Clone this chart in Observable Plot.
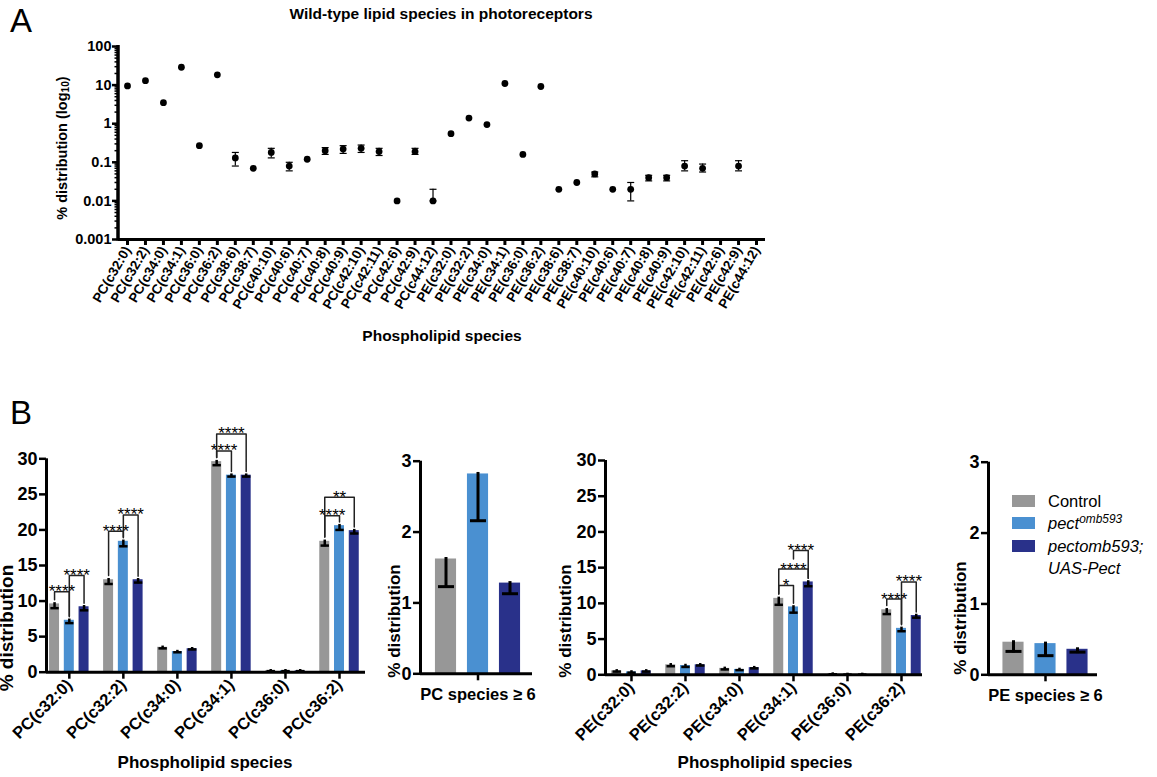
<!DOCTYPE html>
<html>
<head>
<meta charset="utf-8">
<script src="https://cdn.jsdelivr.net/npm/d3@7"></script>
<script src="https://cdn.jsdelivr.net/npm/@observablehq/plot@0.6"></script>
<style>
  html, body { margin: 0; padding: 0; background: white; }
  #root { position: relative; width: 1157px; height: 777px; overflow: hidden; font-family: 'Liberation Sans', Arial, Helvetica, sans-serif; color: black; }
  #root svg { position: absolute; background: transparent; overflow: visible; }
  .t { position: absolute; white-space: nowrap; line-height: 1; transform-origin: center center; }
  .sw { position: absolute; }
</style>
</head>
<body>
<div id="root"></div>
<script>
// ---------------- DATA ----------------
// Panel A: wild-type lipid species (% distribution, log scale)
const speciesA = [
  "PC(c32:0)","PC(c32:2)","PC(c34:0)","PC(c34:1)","PC(c36:0)","PC(c36:2)","PC(c38:6)","PC(c38:7)","PC(c40:10)",
  "PC(c40:6)","PC(c40:7)","PC(c40:8)","PC(c40:9)","PC(c42:10)","PC(c42:11)","PC(c42:6)","PC(c42:9)","PC(c44:12)",
  "PE(c32:0)","PE(c32:2)","PE(c34:0)","PE(c34:1)","PE(c36:0)","PE(c36:2)","PE(c38:6)","PE(c38:7)","PE(c40:10)",
  "PE(c40:6)","PE(c40:7)","PE(c40:8)","PE(c40:9)","PE(c42:10)","PE(c42:11)","PE(c42:6)","PE(c42:9)","PE(c44:12)"
];
const valuesA = [
  9.5, 13, 3.5, 29, 0.27, 18.5, 0.13, 0.07, 0.18,
  0.08, 0.12, 0.2, 0.22, 0.23, 0.19, 0.01, 0.19, 0.01,
  0.55, 1.4, 0.95, 11, 0.16, 9.2, 0.02, 0.03, 0.05,
  0.02, 0.02, 0.04, 0.04, 0.08, 0.07, null, 0.08, null
];
const errLowA = [
  null, null, null, null, null, null, 0.08, null, 0.13,
  0.06, null, 0.16, 0.17, 0.18, 0.15, null, 0.16, 0.01,
  null, null, null, null, null, null, null, null, 0.042,
  null, 0.01, 0.033, 0.033, 0.06, 0.056, null, 0.06, null
];
const errHighA = [
  null, null, null, null, null, null, 0.18, null, 0.23,
  0.1, null, 0.24, 0.27, 0.28, 0.23, null, 0.23, 0.02,
  null, null, null, null, null, null, null, null, 0.056,
  null, 0.03, 0.046, 0.046, 0.11, 0.09, null, 0.11, null
];
const ticksA = [0.001, 0.01, 0.1, 1, 10, 100];
const tickLabelsA = ["0.001", "0.01", "0.1", "1", "10", "100"];

// Panel B
const genotypes = ["Control", "pect omb593", "pectomb593; UAS-Pect"];
const colors = ["#979797", "#4a90d1", "#29318a"];
const speciesPC = ["PC(c32:0)","PC(c32:2)","PC(c34:0)","PC(c34:1)","PC(c36:0)","PC(c36:2)"];
const speciesPE = ["PE(c32:0)","PE(c32:2)","PE(c34:0)","PE(c34:1)","PE(c36:0)","PE(c36:2)"];
const pcControl    = [9.6, 13.0, 3.5, 29.6, 0.2, 18.4];
const pcControlErr = [0.6, 0.6, 0.15, 0.5, 0.05, 0.6];
const pcPect       = [7.3, 18.4, 2.9, 27.7, 0.2, 20.6];
const pcPectErr    = [0.4, 0.7, 0.1, 0.2, 0.05, 0.6];
const pcRescue     = [9.2, 13.0, 3.3, 27.7, 0.2, 19.9];
const pcRescueErr  = [0.5, 0.4, 0.1, 0.2, 0.05, 0.4];
const peControl    = [0.55, 1.4, 0.9, 10.7, 0.1, 9.1];
const peControlErr = [0.1, 0.2, 0.15, 0.9, 0.03, 0.6];
const pePect       = [0.4, 1.3, 0.75, 9.5, 0.05, 6.5];
const pePectErr    = [0.1, 0.2, 0.1, 0.8, 0.02, 0.4];
const peRescue     = [0.55, 1.4, 1.0, 13.0, 0.05, 8.3];
const peRescueErr  = [0.1, 0.1, 0.1, 0.6, 0.02, 0.3];
const pcLong    = [1.62, 2.82, 1.28];
const pcLongErr = [0.39, 0.66, 0.15];
const peLong    = [0.46, 0.44, 0.36];
const peLongErr = [0.13, 0.17, 0.04];
// significance brackets: [group, genotype a, genotype b, level, label]
const pcBrackets = [
  [0, 0, 1, 11.3, "****"], [0, 1, 2, 13.6, "****"],
  [1, 0, 1, 19.8, "****"], [1, 1, 2, 22.1, "****"],
  [3, 0, 1, 31.1, "****"], [3, 0, 2, 33.5, "****"],
  [5, 0, 1, 22.0, "****"], [5, 0, 2, 24.6, "**"]
];
const peBrackets = [
  [3, 0, 1, 12.5, "*"], [3, 0, 2, 14.8, "****"], [3, 1, 2, 17.4, "****"],
  [5, 0, 1, 10.6, "****"], [5, 1, 2, 13.0, "****"]
];
const ticksB = [0, 5, 10, 15, 20, 25, 30];
const ticksSmall = [0, 1, 2, 3];

// ---------------- HELPERS ----------------
const FONT = "'Liberation Sans', Arial, Helvetica, sans-serif";
const root = document.getElementById("root");

function place(svg, left, top) {
  svg.style.left = left + "px";
  svg.style.top = top + "px";
  root.appendChild(svg);
}
function text(html, cx, cy, opts = {}) {
  const d = document.createElement("div");
  d.className = "t";
  d.innerHTML = html;
  d.style.left = cx + "px";
  d.style.top = cy + "px";
  d.style.fontSize = (opts.size || 16) + "px";
  d.style.fontWeight = opts.weight || "bold";
  if (opts.italic) d.style.fontStyle = "italic";
  const anchor = opts.anchor === "start" ? "0%" : "-50%";
  d.style.transform = `translate(${anchor}, -50%)` + (opts.rotate ? ` rotate(${opts.rotate}deg)` : "");
  root.appendChild(d);
  return d;
}
// horizontal cap symbol for error bars
const capSymbol = {
  draw(ctx, size) {
    const w = Math.sqrt(size / Math.PI);
    ctx.moveTo(-w, 0);
    ctx.lineTo(w, 0);
  }
};

// ---------------- PANEL A ----------------
const dataA = speciesA.map((s, i) => ({species: s, value: valuesA[i], lo: errLowA[i], hi: errHighA[i]}));
const minorA = [];
for (let e = -3; e < 2; ++e) for (let m = 2; m <= 9; ++m) minorA.push(m * Math.pow(10, e));

const plotA = Plot.plot({
  width: 800, height: 360,
  marginLeft: 118, marginRight: 35, marginTop: 46, marginBottom: 121,
  style: {fontFamily: FONT, fontWeight: "bold", color: "black", background: "transparent", overflow: "visible"},
  x: {type: "point", domain: speciesA, label: null},
  y: {type: "log", domain: [0.001, 100], label: null},
  marks: [
    Plot.axisY({ticks: minorA, tickSize: 3.5, tickFormat: () => "", strokeWidth: 1.5}),
    Plot.axisY({ticks: ticksA, tickSize: 6, tickPadding: 1, strokeWidth: 2.5, fontSize: 14.5,
      tickFormat: d => tickLabelsA[ticksA.indexOf(d)], label: null}),
    Plot.axisX({tickSize: 6, tickPadding: 2, strokeWidth: 3, tickRotate: -60, fontSize: 13.5, label: null}),
    Plot.ruleY([0.001], {strokeWidth: 3}),
    (index, scales, values, dims) => {
      const l = document.createElementNS("http://www.w3.org/2000/svg", "line");
      l.setAttribute("x1", dims.marginLeft); l.setAttribute("x2", dims.marginLeft);
      l.setAttribute("y1", dims.marginTop - 1); l.setAttribute("y2", dims.height - dims.marginBottom + 1.5);
      l.setAttribute("stroke", "black"); l.setAttribute("stroke-width", 3.5);
      return l;
    },
    Plot.ruleX(dataA.filter(d => d.lo != null), {x: "species", y1: "lo", y2: "hi", strokeWidth: 1.2}),
    Plot.dot(dataA.filter(d => d.lo != null), {x: "species", y: "lo", symbol: capSymbol, r: 3.5, stroke: "black", strokeWidth: 1.2}),
    Plot.dot(dataA.filter(d => d.hi != null), {x: "species", y: "hi", symbol: capSymbol, r: 3.5, stroke: "black", strokeWidth: 1.2}),
    Plot.dot(dataA.filter(d => d.value != null), {x: "species", y: "value", r: 3.4, fill: "black"})
  ]
});
place(plotA, 0, 0);

// ---------------- PANEL B ----------------
const offsets = [-0.273, 0, 0.273];   // genotype position inside a group (in group units)
function groupTable(vals, errs) {
  const rows = [];
  vals[0].forEach((_, i) => {
    vals.forEach((arr, j) => rows.push({i, j, x: i + offsets[j], value: arr[i], err: errs[j][i], geno: genotypes[j]}));
  });
  return rows;
}
function bracketData(brackets, table) {
  const pts = [], labels = [];
  brackets.forEach(([g, a, b, level, lab], k) => {
    const ra = table.find(d => d.i === g && d.j === a);
    const rb = table.find(d => d.i === g && d.j === b);
    // a drop stops above a lower bracket's label when it falls strictly inside that bracket
    const stop = (j, base) => {
      let s = base;
      brackets.forEach(([g2, a2, b2, l2]) => {
        if (g2 === g && l2 < level && j > a2 && j < b2) s = Math.max(s, l2 + 1.4);
      });
      return s;
    };
    pts.push({k, x: ra.x, y: stop(a, ra.value + 0.6)});
    pts.push({k, x: ra.x, y: level});
    pts.push({k, x: rb.x, y: level});
    pts.push({k, x: rb.x, y: stop(b, rb.value + 0.5)});
    labels.push({x: (ra.x + rb.x) / 2, y: level, label: lab});
  });
  return {pts, labels};
}
function groupedPlot({species, table, brackets, width, height, marginLeft, marginRight, marginTop, marginBottom, xdomain}) {
  const br = bracketData(brackets, table);
  const hw = 0.0925;
  return Plot.plot({
    width, height, marginLeft, marginRight, marginTop, marginBottom,
    style: {fontFamily: FONT, fontWeight: "bold", color: "black", background: "transparent", overflow: "visible"},
    x: {domain: xdomain, label: null},
    y: {domain: [0, 30], label: null},
    color: {domain: genotypes, range: colors},
    marks: [
      Plot.rectY(table, {x1: d => d.x - hw, x2: d => d.x + hw, y1: 0, y2: "value", fill: "geno"}),
      Plot.ruleX(table, {x: "x", y1: "value", y2: d => d.value - d.err, strokeWidth: 2.5, strokeLinecap: "square"}),
      Plot.dot(table, {x: "x", y: d => d.value - d.err, symbol: capSymbol, r: 4.2, stroke: "black", strokeWidth: 2.5}),
      Plot.line(br.pts, {x: "x", y: "y", z: "k", stroke: "#222", strokeWidth: 1.5}),
      Plot.text(br.labels, {x: "x", y: "y", text: "label", fontSize: 17, fontWeight: "normal", lineAnchor: "middle", dy: 0}),
      Plot.axisY({ticks: ticksB, tickSize: 7, tickPadding: 2, strokeWidth: 2.5, fontSize: 18, tickFormat: d => String(d), label: null}),
      Plot.axisX({ticks: d3.range(species.length), tickFormat: i => species[i], tickSize: 7, tickPadding: 3,
        strokeWidth: 2.5, tickRotate: -45, fontSize: 16.5, label: null}),
      Plot.ruleY([0], {strokeWidth: 3}),
      Plot.ruleX([xdomain[0]], {y1: 0, y2: 30, strokeWidth: 3})
    ]
  });
}
function singlePlot({label, vals, errs, width, height, marginLeft, marginRight, marginTop, marginBottom, xdomain}) {
  const table = vals.map((v, j) => ({x: j - 1, value: v, err: errs[j], geno: genotypes[j]}));
  const hw = 0.33;
  return Plot.plot({
    width, height, marginLeft, marginRight, marginTop, marginBottom,
    style: {fontFamily: FONT, fontWeight: "bold", color: "black", background: "transparent", overflow: "visible"},
    x: {domain: xdomain, label: null},
    y: {domain: [0, 3], label: null},
    color: {domain: genotypes, range: colors},
    marks: [
      Plot.rectY(table, {x1: d => d.x - hw, x2: d => d.x + hw, y1: 0, y2: "value", fill: "geno"}),
      Plot.ruleX(table, {x: "x", y1: "value", y2: d => d.value - d.err, strokeWidth: 3, strokeLinecap: "square"}),
      Plot.dot(table, {x: "x", y: d => d.value - d.err, symbol: capSymbol, r: 8, stroke: "black", strokeWidth: 3}),
      Plot.axisY({ticks: ticksSmall, tickSize: 7, tickPadding: 2, strokeWidth: 2.5, fontSize: 18, tickFormat: d => String(d), label: null}),
      Plot.axisX({ticks: [0], tickFormat: () => label, tickSize: 7, tickPadding: 7, strokeWidth: 2.5, fontSize: 16.5, label: null}),
      Plot.ruleY([0], {strokeWidth: 3}),
      Plot.ruleX([xdomain[0]], {y1: 0, y2: 3, strokeWidth: 3})
    ]
  });
}

const pcTable = groupTable([pcControl, pcPect, pcRescue], [pcControlErr, pcPectErr, pcRescueErr]);
const peTable = groupTable([peControl, pePect, peRescue], [peControlErr, pePectErr, peRescueErr]);

const b1 = groupedPlot({species: speciesPC, table: pcTable, brackets: pcBrackets,
  width: 380, height: 370, marginLeft: 46, marginRight: 15, marginTop: 58.3, marginBottom: 98.3,
  xdomain: [-0.422, 5.481]});
place(b1, 0, 400);

const b2 = singlePlot({label: "PC species \u2265 6", vals: pcLong, errs: pcLongErr,
  width: 170, height: 370, marginLeft: 40, marginRight: 18, marginTop: 60.7, marginBottom: 96.7,
  xdomain: [-1.797, 1.703]});
place(b2, 380, 400);

const b3 = groupedPlot({species: speciesPE, table: peTable, brackets: peBrackets,
  width: 410, height: 370, marginLeft: 75, marginRight: 18, marginTop: 60, marginBottom: 95.7,
  xdomain: [-0.481, 5.389]});
place(b3, 530, 400);

const b4 = singlePlot({label: "PE species \u2265 6", vals: peLong, errs: peLongErr,
  width: 207, height: 370, marginLeft: 38, marginRight: 60, marginTop: 61.7, marginBottom: 95.7,
  xdomain: [-1.781, 1.625]});
place(b4, 950, 400);

// ---------------- TEXT ----------------
text("A", 21, 20, {size: 33, weight: "normal"});
text("B", 21, 412, {size: 33, weight: "normal"});
text("Wild-type lipid species in photoreceptors", 441, 14, {size: 15.5});
text("% distribution (log<sub style='font-size:0.7em;vertical-align:-0.25em'>10</sub>)", 63, 148, {size: 14.5, rotate: -90});
text("Phospholipid species", 442, 336, {size: 15.5});
text("% distribution", 6, 628, {size: 19, rotate: -90});
text("% distribution", 394, 621, {size: 17, rotate: -90});
text("% distribution", 565, 621, {size: 17, rotate: -90});
text("% distribution", 960, 618, {size: 17, rotate: -90});
text("Phospholipid species", 205, 762, {size: 17});
text("Phospholipid species", 765, 762, {size: 17});

// legend
const legendRows = [
  {html: "Control", y: 501},
  {html: "<i>pect<sup style='font-size:0.72em;vertical-align:0.45em'>omb593</sup></i>", y: 523},
  {html: "<i>pectomb593;</i>", y: 546}
];
legendRows.forEach((r, j) => {
  const sw = document.createElement("div");
  sw.className = "sw";
  sw.style.left = "1012px"; sw.style.top = (r.y - 6) + "px";
  sw.style.width = "23px"; sw.style.height = "12px";
  sw.style.background = colors[j];
  root.appendChild(sw);
  text(r.html, 1048, r.y, {size: 16.5, weight: "normal", anchor: "start"});
});
text("<i>UAS-Pect</i>", 1048, 568, {size: 16.5, weight: "normal", anchor: "start"});
</script>
</body>
</html>
